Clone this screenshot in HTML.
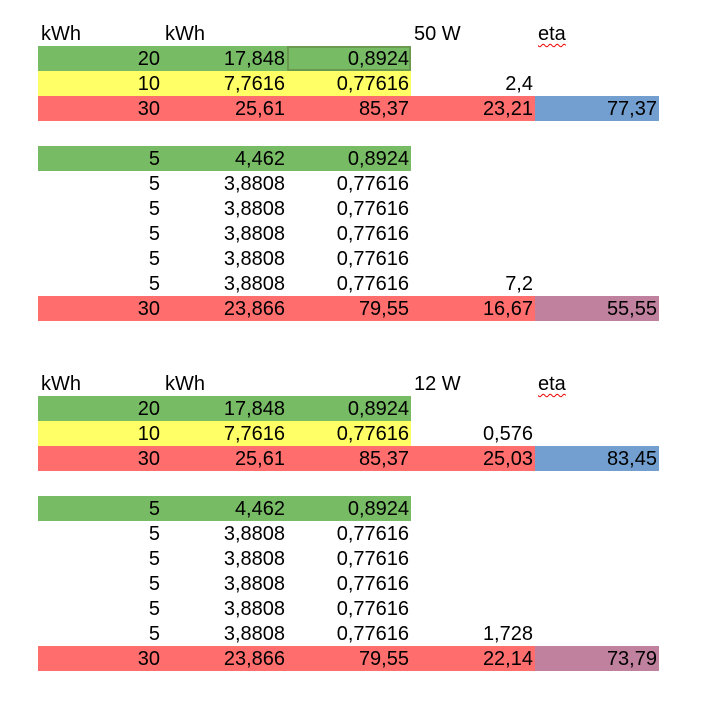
<!DOCTYPE html>
<html><head><meta charset="utf-8"><style>
html,body{margin:0;padding:0;background:#fff;width:701px;height:702px;overflow:hidden}
table{position:absolute;left:38px;top:21px;border-collapse:collapse;table-layout:fixed;font-family:"Liberation Sans",sans-serif;font-size:20px;color:#000}
td{height:25px;padding:2px 2px 0 3px;text-align:right;white-space:nowrap;line-height:23px;box-sizing:border-box;overflow:visible}
td.l{text-align:left}
.g{background:#77bc65}.y{background:#ffff66}.r{background:#ff6d6d}.b{background:#729fcf}.p{background:#bf819e}
.eta{text-decoration:underline wavy #e00;text-decoration-thickness:1px;text-underline-offset:3px}
.sel{outline:2px solid #6a9a50;outline-offset:-2px}
</style></head><body>
<table>
<colgroup><col style="width:124px"><col style="width:125px"><col style="width:124px"><col style="width:124px"><col style="width:124px"></colgroup>
<tr><td class="l">kWh</td><td class="l">kWh</td><td></td><td class="l">50 W</td><td class="l"><span class="eta">eta</span></td></tr>
<tr><td class="g">20</td><td class="g">17,848</td><td class="g sel">0,8924</td><td></td><td></td></tr>
<tr><td class="y">10</td><td class="y">7,7616</td><td class="y">0,77616</td><td>2,4</td><td></td></tr>
<tr><td class="r">30</td><td class="r">25,61</td><td class="r">85,37</td><td class="r">23,21</td><td class="b">77,37</td></tr>
<tr><td></td><td></td><td></td><td></td><td></td></tr>
<tr><td class="g">5</td><td class="g">4,462</td><td class="g">0,8924</td><td></td><td></td></tr>
<tr><td>5</td><td>3,8808</td><td>0,77616</td><td></td><td></td></tr>
<tr><td>5</td><td>3,8808</td><td>0,77616</td><td></td><td></td></tr>
<tr><td>5</td><td>3,8808</td><td>0,77616</td><td></td><td></td></tr>
<tr><td>5</td><td>3,8808</td><td>0,77616</td><td></td><td></td></tr>
<tr><td>5</td><td>3,8808</td><td>0,77616</td><td>7,2</td><td></td></tr>
<tr><td class="r">30</td><td class="r">23,866</td><td class="r">79,55</td><td class="r">16,67</td><td class="p">55,55</td></tr>
<tr><td></td><td></td><td></td><td></td><td></td></tr>
<tr><td></td><td></td><td></td><td></td><td></td></tr>
<tr><td class="l">kWh</td><td class="l">kWh</td><td></td><td class="l">12 W</td><td class="l"><span class="eta">eta</span></td></tr>
<tr><td class="g">20</td><td class="g">17,848</td><td class="g">0,8924</td><td></td><td></td></tr>
<tr><td class="y">10</td><td class="y">7,7616</td><td class="y">0,77616</td><td>0,576</td><td></td></tr>
<tr><td class="r">30</td><td class="r">25,61</td><td class="r">85,37</td><td class="r">25,03</td><td class="b">83,45</td></tr>
<tr><td></td><td></td><td></td><td></td><td></td></tr>
<tr><td class="g">5</td><td class="g">4,462</td><td class="g">0,8924</td><td></td><td></td></tr>
<tr><td>5</td><td>3,8808</td><td>0,77616</td><td></td><td></td></tr>
<tr><td>5</td><td>3,8808</td><td>0,77616</td><td></td><td></td></tr>
<tr><td>5</td><td>3,8808</td><td>0,77616</td><td></td><td></td></tr>
<tr><td>5</td><td>3,8808</td><td>0,77616</td><td></td><td></td></tr>
<tr><td>5</td><td>3,8808</td><td>0,77616</td><td>1,728</td><td></td></tr>
<tr><td class="r">30</td><td class="r">23,866</td><td class="r">79,55</td><td class="r">22,14</td><td class="p">73,79</td></tr>
</table>
</body></html>
